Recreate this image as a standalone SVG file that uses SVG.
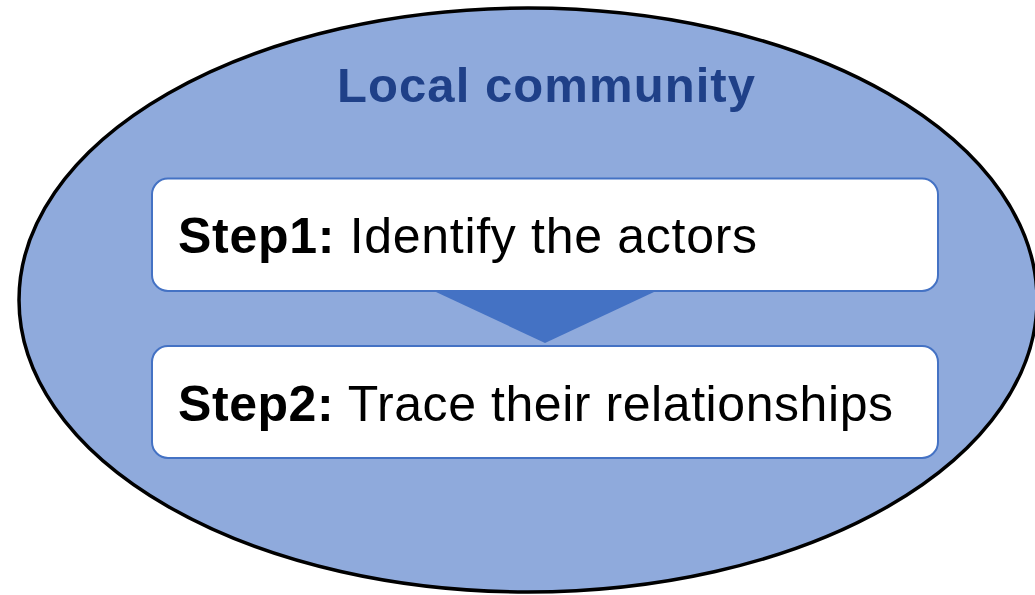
<svg xmlns="http://www.w3.org/2000/svg" width="1035" height="595" viewBox="0 0 1035 595">
  <style>
    .box { fill: #ffffff; stroke: #4472C4; stroke-width: 2; }
    .step { font-family: "Liberation Sans", Arial, sans-serif; font-size: 50px; fill: #000000; }
    .b { font-weight: bold; }
    .title { font-family: "Liberation Sans", Arial, sans-serif; font-size: 49px; font-weight: bold; fill: #1F4088; }
  </style>
  <g id="community">
    <ellipse cx="528" cy="300" rx="509" ry="292" fill="#8FAADC" stroke="#000000" stroke-width="3.5"/>
    <text class="title" x="337" y="102" textLength="418" lengthAdjust="spacing">Local community</text>
  </g>
  <g id="connectors">
    <polygon points="436,292 654,292 545,343" fill="#4472C4"/>
  </g>
  <g id="step1">
    <rect class="box" x="152" y="178.5" width="786" height="112.5" rx="16"/>
    <text class="step" x="178" y="253" textLength="579" lengthAdjust="spacing"><tspan class="b">Step1:</tspan> Identify the actors</text>
  </g>
  <g id="step2">
    <rect class="box" x="152" y="346" width="786" height="112" rx="16"/>
    <text class="step" x="178" y="421" textLength="715" lengthAdjust="spacing"><tspan class="b">Step2:</tspan> Trace their relationships</text>
  </g>
</svg>
